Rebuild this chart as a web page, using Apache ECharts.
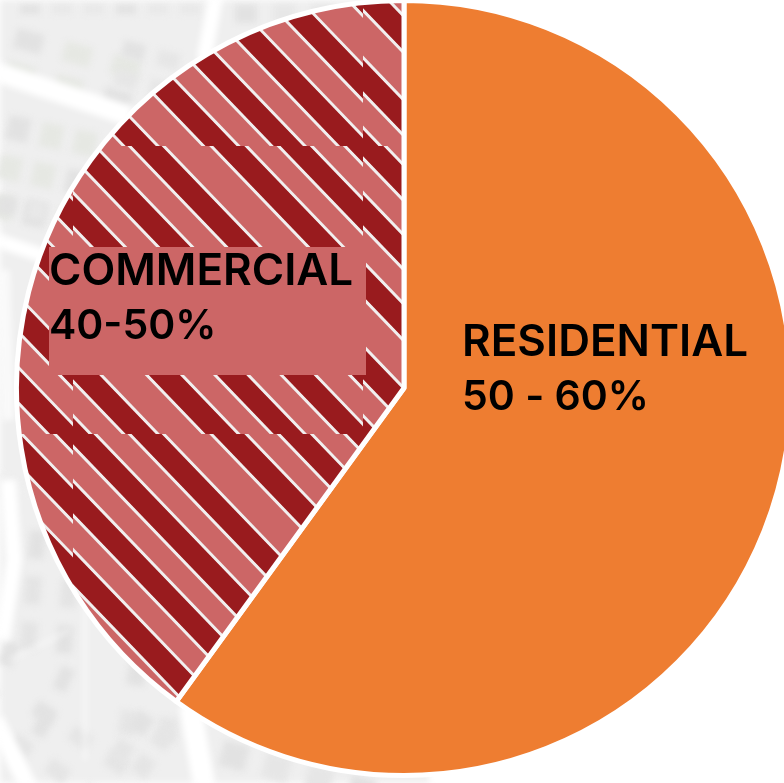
<!DOCTYPE html>
<html>
<head>
<meta charset="utf-8">
<style>html,body{margin:0;padding:0;background:#fff;overflow:hidden}#chart{width:784px;height:783px}</style>
<script src="https://cdn.jsdelivr.net/npm/echarts@6/dist/echarts.min.js"></script>
</head>
<body>
<div id="chart"></div>
<script>
// Land-use split
const categories = ['RESIDENTIAL', 'COMMERCIAL'];
const rangeLabels = ['50 - 60%', '40-50%'];
const shares = [60, 40];

const ORANGE = '#EE7D31';
const DARK_RED = '#991B1E';
const ROSE = '#CC6666';

// Diagonal hatch tile: dark bands with pale edges on a rose ground.
function hatchTile() {
  const W = 290, H = 288, k = 1.04, edge = 4.4;
  const bands = [[-309,-285],[-246,-216],[-178,-146],[-92,-61],[-21,10],[49,79],[118,150],[202,233],[272,303]];
  const c = document.createElement('canvas');
  c.width = W; c.height = H;
  const g = c.getContext('2d');
  g.fillStyle = ROSE;
  g.fillRect(0, 0, W, H);
  const strip = (a, b, fill) => {
    g.fillStyle = fill;
    g.beginPath();
    g.moveTo(0, a); g.lineTo(W, a + k * W); g.lineTo(W, b + k * W); g.lineTo(0, b);
    g.closePath();
    g.fill();
  };
  bands.forEach(([a, b]) => {
    strip(a - edge, a, '#F1EFEF');
    strip(b, b + edge, '#F1EFEF');
    strip(a, b, DARK_RED);
  });
  return c;
}

// Faded street map behind the pie.
function mapBackdrop() {
  const c = document.createElement('canvas');
  c.width = 784; c.height = 783;
  const g = c.getContext('2d');
  g.filter = 'blur(3px)';
  g.fillStyle = '#EFEFEF';
  g.beginPath();
  g.moveTo(0, 0); g.lineTo(400, 0); g.lineTo(400, 60); g.lineTo(60, 500); g.lineTo(0, 500);
  g.closePath(); g.fill();
  g.beginPath();
  g.moveTo(0, 470); g.lineTo(120, 560); g.lineTo(420, 740); g.lineTo(430, 783); g.lineTo(0, 783);
  g.closePath(); g.fill();

  // building footprints, laid out block by block
  const block = (x0, y0, cols, rows, dx, dy, w, h, angle, tone) => {
    g.save();
    g.translate(x0, y0);
    g.rotate(angle * Math.PI / 180);
    for (let i = 0; i < cols; i++) {
      for (let j = 0; j < rows; j++) {
        g.fillStyle = (i + j) % 3 === 0 ? '#E2E2E2' : tone;
        g.fillRect(i * dx, j * dy, w, h);
      }
    }
    g.restore();
  };
  block(20, 5, 6, 1, 32, 0, 20, 9, 0, '#E8E8E8');
  block(18, 28, 3, 2, 50, 34, 28, 20, 15, '#E6E8E3');
  block(125, 40, 2, 2, 36, 30, 22, 16, 15, '#E6E6E6');
  block(235, 5, 3, 1, 38, 0, 22, 18, 0, '#E7E7E7');
  block(10, 115, 3, 3, 34, 40, 22, 24, 12, '#E6E8E3');
  block(0, 195, 2, 1, 30, 0, 18, 18, 10, '#E8E8E8');
  block(30, 530, 2, 3, 36, 46, 16, 28, 5, '#E4E4E4');
  block(8, 640, 2, 2, 60, 50, 14, 24, 25, '#E2E2E2');
  block(40, 700, 3, 2, 44, 40, 22, 16, 35, '#E5E5E5');
  block(130, 660, 2, 2, 40, 50, 18, 24, 10, '#E6E6E6');
  block(140, 710, 2, 2, 26, 34, 18, 20, 35, '#E5E5E5');
  block(225, 740, 4, 1, 44, 0, 26, 26, 15, '#E6E6E6');

  // streets
  g.strokeStyle = '#FFFFFF';
  const street = (width, pts, alpha) => {
    g.globalAlpha = alpha || 1;
    g.lineWidth = width;
    g.beginPath();
    pts.forEach((p, i) => i ? g.lineTo(p[0], p[1]) : g.moveTo(p[0], p[1]));
    g.stroke();
    g.globalAlpha = 1;
  };
  street(20, [[-10, 70], [130, 116]]);
  street(15, [[216, -5], [204, 60]]);
  street(14, [[-10, 238], [50, 258]]);
  street(12, [[4, 270], [8, 420]], 0.7);
  street(16, [[8, 480], [14, 560], [2, 640]]);
  street(22, [[190, 705], [205, 790]]);
  street(18, [[-5, 720], [30, 790]]);
  street(5, [[85, 600], [85, 760]], 0.5);
  street(4, [[10, 660], [70, 630]], 0.5);
  return c;
}

const chart = echarts.init(document.getElementById('chart'), null, { renderer: 'canvas' });

const labelSpots = [
  { x: 462, y: 315 },
  { x: 49, y: 247 }
];

// Heading and range lines use separate sizes; the commercial label sits high in its box.
const labelRich = (headLine, rangeLine) => ({
  head: { fontFamily: 'Inter', fontWeight: 600, fontSize: 44, lineHeight: headLine, color: '#000000' },
  range: { fontFamily: 'Inter', fontWeight: 600, fontSize: 41, lineHeight: rangeLine, color: '#000000' }
});

const option = {
  animation: false,
  graphic: [{
    type: 'image',
    silent: true,
    z: -10,
    left: 0,
    top: 0,
    style: { image: mapBackdrop(), x: 0, y: 0, width: 784, height: 783 }
  }],
  series: [{
    type: 'pie',
    silent: true,
    center: [404, 388],
    radius: [0, 387.5],
    startAngle: 90,
    clockwise: true,
    avoidLabelOverlap: false,
    itemStyle: { borderColor: '#FFFFFF', borderWidth: 5 },
    label: {
      show: true,
      position: 'inside',
      align: 'left',
      verticalAlign: 'top',
      formatter: p => '{head|' + p.name + '}\n{range|' + rangeLabels[p.dataIndex] + '}'
    },
    labelLine: { show: false },
    labelLayout: p => ({
      x: labelSpots[p.dataIndex].x,
      y: labelSpots[p.dataIndex].y,
      align: 'left',
      verticalAlign: 'top'
    }),
    data: categories.map((name, i) => ({
      name,
      value: shares[i],
      itemStyle: i === 0
        ? { color: ORANGE }
        : { color: { image: hatchTile(), repeat: 'repeat', x: 73, y: 146 } },
      label: i === 1
        ? { backgroundColor: ROSE, width: 317, height: 128, rich: labelRich(49, 61) }
        : { rich: labelRich(55, 55) }
    }))
  }]
};

chart.setOption(option);
</script>
</body>
</html>
